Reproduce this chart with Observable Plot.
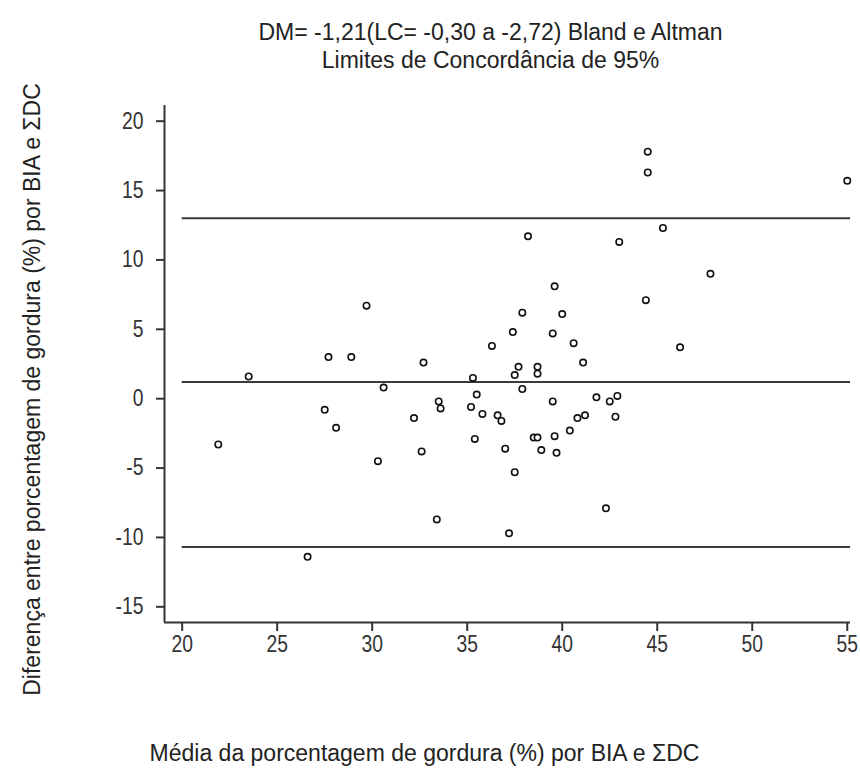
<!DOCTYPE html>
<html>
<head>
<meta charset="utf-8">
<script src="https://cdn.jsdelivr.net/npm/d3@7"></script>
<script src="https://cdn.jsdelivr.net/npm/@observablehq/plot@0.6"></script>
<style>
  html, body { margin: 0; padding: 0; background: #fff; }
  #chart svg { display: block; }
</style>
</head>
<body>
<div id="chart"></div>
<script>
// ---- data ----
const meanPct = [
  29.7, 27.7, 28.9, 23.5, 30.6, 27.5, 28.1, 21.9, 30.3, 26.6,
  37.9, 40.0, 37.4, 39.5, 40.6, 36.3, 46.2, 32.7, 41.1, 37.7,
  38.7, 38.7, 37.5, 35.3, 37.9, 35.5, 41.8, 42.9, 42.5, 39.5,
  33.5, 33.6, 35.2, 32.2, 35.8, 36.6, 36.8, 40.8, 41.2, 42.8,
  40.4, 35.4, 38.5, 38.7, 39.6, 32.6, 37.0, 38.9, 39.7, 37.5,
  42.3, 33.4, 37.2,
  44.5, 44.5, 55.0, 45.3, 38.2, 43.0, 47.8, 39.6, 44.4
];
const diffPct = [
  6.7, 3.0, 3.0, 1.6, 0.8, -0.8, -2.1, -3.3, -4.5, -11.4,
  6.2, 6.1, 4.8, 4.7, 4.0, 3.8, 3.7, 2.6, 2.6, 2.3,
  2.3, 1.8, 1.7, 1.5, 0.7, 0.3, 0.1, 0.2, -0.2, -0.2,
  -0.2, -0.7, -0.6, -1.4, -1.1, -1.2, -1.6, -1.4, -1.2, -1.3,
  -2.3, -2.9, -2.8, -2.8, -2.7, -3.8, -3.6, -3.7, -3.9, -5.3,
  -7.9, -8.7, -9.7,
  17.8, 16.3, 15.7, 12.3, 11.7, 11.3, 9.0, 8.1, 7.1
];
const limitLines = [13.0, 1.21, -10.68];     // upper limit, mean difference, lower limit
const xTicks = [20, 25, 30, 35, 40, 45, 50, 55];
const yTicks = [-15, -10, -5, 0, 5, 10, 15, 20];
const xDomain = [19.07, 55.17];
const yDomain = [-16.13, 21.13];
const titleLine1 = "DM= -1,21(LC= -0,30 a -2,72) Bland e Altman";
const titleLine2 = "Limites de Concordância de 95%";
const xTitle = "Média da porcentagem de gordura (%) por BIA e ΣDC";
const yTitle = "Diferença entre porcentagem de gordura (%) por BIA e ΣDC";

const points = meanPct.map((m, i) => ({mean: m, diff: diffPct[i]}));

const ink = "#333";
const plot = Plot.plot({
  width: 860,
  height: 775,
  marginLeft: 164,
  marginRight: 10,
  marginTop: 105,
  marginBottom: 153,
  style: {fontFamily: "'Liberation Sans', Arial, sans-serif", fontSize: "23px", color: ink, background: "#fff"},
  x: {domain: xDomain},
  y: {domain: yDomain},
  marks: [
    Plot.axisX({ticks: xTicks, tickSize: 9, tickPadding: 4, label: null, strokeWidth: 2, tickFormat: d => String(d)}),
    Plot.axisY({ticks: yTicks, tickSize: 8, tickPadding: 13, label: null, strokeWidth: 2, tickFormat: d => String(d)}),
    Plot.ruleX([xDomain[0]], {stroke: ink, strokeWidth: 2}),
    Plot.ruleY([yDomain[0]], {stroke: ink, strokeWidth: 2}),
    Plot.ruleY(limitLines, {x1: xTicks[0], x2: xDomain[1], stroke: "#3a3a3a", strokeWidth: 2}),
    Plot.dot(points, {x: "mean", y: "diff", r: 3.2, stroke: "#111", strokeWidth: 1.6, fill: "white"}),
    Plot.text([titleLine1], {text: d => d, frameAnchor: "top", textAnchor: "middle", dx: -17, dy: -81.7, fontSize: 23, fill: "#222"}),
    Plot.text([titleLine2], {text: d => d, frameAnchor: "top", textAnchor: "middle", dx: -17, dy: -54.1, fontSize: 23, fill: "#222"}),
    Plot.text([xTitle], {text: d => d, frameAnchor: "bottom", textAnchor: "middle", dx: -83, dy: 138.6, fontSize: 23, fill: "#222"}),
    Plot.text([yTitle], {text: d => d, frameAnchor: "left", textAnchor: "middle", dx: -132, dy: 25.5, rotate: -90, fontSize: 23, fill: "#222"})
  ]
});

document.getElementById("chart").appendChild(plot);

// tick labels in the reference use a narrow face: compress their glyphs horizontally
plot.querySelectorAll('g[aria-label$="tick label"] text').forEach(t => {
  const w = t.getComputedTextLength();
  if (w > 0) {
    t.setAttribute("textLength", (w * 0.84).toFixed(2));
    t.setAttribute("lengthAdjust", "spacingAndGlyphs");
  }
});
</script>
</body>
</html>
